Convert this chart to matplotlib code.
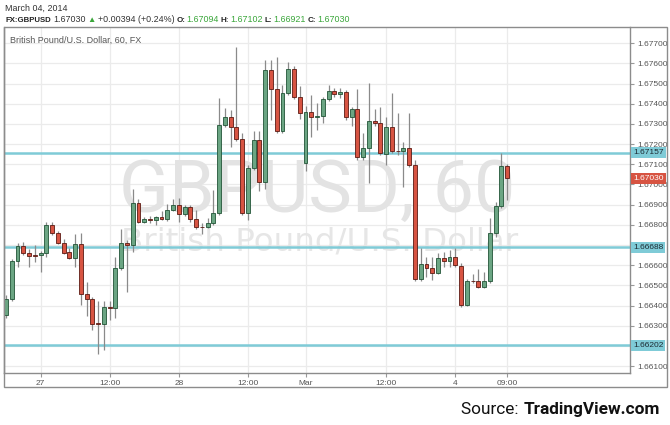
import matplotlib
matplotlib.use("Agg")
import matplotlib.pyplot as plt
from matplotlib import font_manager
from matplotlib.patches import Rectangle
import numpy as np
import pandas as pd

# ---------------- data ----------------
opens = [
    1.66353, 1.66431, 1.66621, 1.66697, 1.66659, 1.66650, 1.66649, 1.66659, 1.66798, 1.66761,
    1.66711, 1.66665, 1.66636, 1.66703, 1.66457, 1.66431, 1.66311, 1.66308, 1.66394, 1.66389,
    1.66587, 1.66711, 1.66700, 1.66910, 1.66815, 1.66829, 1.66825, 1.66837, 1.66827, 1.66874,
    1.66898, 1.66854, 1.66890, 1.66829, 1.66791, 1.66788, 1.66808, 1.66857, 1.67295, 1.67333,
    1.67284, 1.67226, 1.66860, 1.67080, 1.67221, 1.67011, 1.67568, 1.67473, 1.67265, 1.67454,
    1.67573, 1.67434, 1.67108, 1.67361, 1.67333, 1.67338, 1.67424, 1.67464, 1.67449, 1.67457,
    1.67336, 1.67373, 1.67135, 1.67179, 1.67316, 1.67303, 1.67150, 1.67284, 1.67168, 1.67166,
    1.67179, 1.67097, 1.66530, 1.66604, 1.66584, 1.66563, 1.66634, 1.66621, 1.66639, 1.66596,
    1.66403, 1.66522, 1.66522, 1.66490, 1.66522, 1.66758, 1.66893, 1.67094]
highs = [
    1.66452, 1.66631, 1.66708, 1.66713, 1.66680, 1.66700, 1.66670, 1.66815, 1.66815, 1.66769,
    1.66728, 1.66684, 1.66755, 1.66758, 1.66518, 1.66442, 1.66424, 1.66424, 1.66424, 1.66642,
    1.66778, 1.66725, 1.66976, 1.66928, 1.66840, 1.66844, 1.66842, 1.66870, 1.66903, 1.66928,
    1.66932, 1.66898, 1.66898, 1.66874, 1.66808, 1.66834, 1.66973, 1.67429, 1.67378, 1.67369,
    1.67683, 1.67255, 1.67097, 1.67265, 1.67265, 1.67617, 1.67617, 1.67631, 1.67493, 1.67609,
    1.67588, 1.67488, 1.67389, 1.67444, 1.67405, 1.67434, 1.67493, 1.67478, 1.67478, 1.67469,
    1.67384, 1.67472, 1.67254, 1.67502, 1.67373, 1.67383, 1.67336, 1.67455, 1.67354, 1.67212,
    1.67356, 1.67121, 1.66685, 1.66642, 1.66639, 1.66662, 1.66667, 1.66675, 1.66684, 1.66611,
    1.66531, 1.66555, 1.66580, 1.66568, 1.66833, 1.66915, 1.67155, 1.67102]
lows = [
    1.66338, 1.66422, 1.66589, 1.66650, 1.66589, 1.66617, 1.66568, 1.66639, 1.66750, 1.66705,
    1.66655, 1.66629, 1.66589, 1.66403, 1.66348, 1.66279, 1.66160, 1.66179, 1.66328, 1.66337,
    1.66576, 1.66468, 1.66667, 1.66808, 1.66808, 1.66810, 1.66799, 1.66822, 1.66819, 1.66869,
    1.66815, 1.66844, 1.66814, 1.66779, 1.66755, 1.66782, 1.66799, 1.66849, 1.67285, 1.67187,
    1.67216, 1.66849, 1.66824, 1.67072, 1.66969, 1.66976, 1.67320, 1.67255, 1.67255, 1.67444,
    1.67424, 1.67323, 1.67067, 1.67237, 1.67270, 1.67303, 1.67414, 1.67434, 1.67429, 1.67320,
    1.67290, 1.67121, 1.67121, 1.67006, 1.67290, 1.67146, 1.67097, 1.67156, 1.67146, 1.66989,
    1.67087, 1.66522, 1.66522, 1.66543, 1.66526, 1.66556, 1.66589, 1.66592, 1.66591, 1.66394,
    1.66397, 1.66512, 1.66487, 1.66487, 1.66512, 1.66740, 1.66885, 1.66921]
closes = [
    1.66431, 1.66621, 1.66697, 1.66659, 1.66647, 1.66647, 1.66659, 1.66798, 1.66761, 1.66711,
    1.66662, 1.66636, 1.66703, 1.66457, 1.66431, 1.66308, 1.66308, 1.66391, 1.66389, 1.66587,
    1.66708, 1.66700, 1.66910, 1.66815, 1.66829, 1.66824, 1.66837, 1.66827, 1.66874, 1.66898,
    1.66854, 1.66890, 1.66829, 1.66788, 1.66789, 1.66808, 1.66857, 1.67295, 1.67333, 1.67284,
    1.67226, 1.66860, 1.67080, 1.67221, 1.67011, 1.67568, 1.67473, 1.67265, 1.67454, 1.67573,
    1.67434, 1.67354, 1.67361, 1.67333, 1.67338, 1.67424, 1.67464, 1.67449, 1.67457, 1.67336,
    1.67373, 1.67135, 1.67179, 1.67316, 1.67303, 1.67158, 1.67284, 1.67166, 1.67166, 1.67179,
    1.67097, 1.66530, 1.66604, 1.66584, 1.66563, 1.66634, 1.66621, 1.66639, 1.66601, 1.66403,
    1.66522, 1.66521, 1.66490, 1.66522, 1.66758, 1.66893, 1.67094, 1.67030]

# hourly bars (weekend gap removed)
times = pd.date_range("2014-02-26 18:00", "2014-02-28 21:00", freq="h").append(
    pd.date_range("2014-03-02 22:00", "2014-03-04 09:00", freq="h"))

tick_times = ["2014-02-27 00:00", "2014-02-27 12:00", "2014-02-28 00:00", "2014-02-28 12:00",
              "2014-03-02 22:00", "2014-03-03 12:00", "2014-03-04 00:00", "2014-03-04 09:00"]
tick_labels = ["27", "12:00", "28", "12:00", "Mar", "12:00", "4", "09:00"]

price_ticks = [1.661, 1.662, 1.663, 1.664, 1.665, 1.666, 1.667, 1.668,
               1.669, 1.670, 1.671, 1.672, 1.673, 1.674, 1.675, 1.676, 1.677]
levels = [1.67157, 1.66688, 1.66202]
last_price = 1.67030

header_date = "March 04, 2014"
symbol = "FX:GBPUSD"
change_text = "+0.00394 (+0.24%)"
ohlc_labels = ["O:", "H:", "L:", "C:"]
ohlc_values = ["1.67094", "1.67102", "1.66921", "1.67030"]
subtitle = "British Pound/U.S. Dollar, 60, FX"
wm_big = "GBPUSD, 60"
wm_small = "British Pound/U.S. Dollar"

# ---------------- style ----------------
W, H = 670, 425
UP_FILL, UP_EDGE = "#6ba583", "#225437"
DN_FILL, DN_EDGE = "#d75442", "#5b1a13"
WICK = "#8a8a8a"
LEVEL = "#7fcbd7"
GRID = "#ebebeb"
BORDER = "#8c8c8c"
TXT = "#555555"
GREEN = "#3aa63a"
BASE = ["Liberation Sans", "DejaVu Sans"]
NARROW = ["Roboto", "Liberation Sans", "DejaVu Sans"]

fig = plt.figure(figsize=(W / 100, H / 100), dpi=100)
fig.patch.set_facecolor("white")


def fx(x):
    return x / W


def fy(y):
    return 1 - y / H


# chart frame
fig.patches.append(Rectangle((fx(4), fy(387)), fx(667) - fx(4), fy(27) - fy(387),
                             transform=fig.transFigure, fill=False, ec=BORDER, lw=1.0, zorder=0))

ax = fig.add_axes([fx(4), fy(373), fx(630) - fx(4), fy(27) - fy(373)])
ax.set_facecolor("white")
ax.set_xlim(-0.35, 108.33)
ax.set_ylim(1.660654, 1.677808)

x = np.arange(len(times))
o = np.array(opens); h = np.array(highs); l = np.array(lows); c = np.array(closes)
up = c >= o

# ticks / grid (labels hidden behind the level markers are left blank)
hidden = [round(abs(lv - p), 6) < 0.0002 for p in price_ticks for lv in levels]
ax.set_yticks(price_ticks)
ylabels = []
for p in price_ticks:
    covered = any(abs(p - lv) < 0.00016 for lv in levels)
    ylabels.append("" if covered else f"{p:.5f}")
ax.set_yticklabels(ylabels)
tick_pos = [times.get_loc(pd.Timestamp(t)) for t in tick_times]
ax.set_xticks(tick_pos)
ax.set_xticklabels(tick_labels)
ax.grid(True, color=GRID, lw=0.9, zorder=0)
ax.set_axisbelow(True)
ax.yaxis.tick_right()
ax.tick_params(axis="y", which="both", length=3, width=0.8, color="#999999", pad=2,
               labelsize=6, labelcolor=TXT)
ax.tick_params(axis="x", length=3, width=0.8, color="#999999", pad=2.0,
               labelsize=6, labelcolor=TXT)
for lab in ax.get_xticklabels() + ax.get_yticklabels():
    lab.set_family(BASE)
for side in ["left", "right", "bottom"]:
    ax.spines[side].set_color(BORDER)
    ax.spines[side].set_linewidth(1.0)
ax.spines["top"].set_visible(False)

renderer = fig.canvas.get_renderer()


def fit_text(s, x0, base_y, target_w, family, color, weight="normal"):
    t = fig.text(fx(x0), fy(base_y), s, fontsize=20, family=family, color=color,
                 ha="left", va="baseline", fontweight=weight)
    w = t.get_window_extent(renderer).width
    t.set_fontsize(20 * target_w / w)
    return t


# watermark (inside the axes drawing order, under the candles)
wm1 = fit_text(wm_big, 119, 212, 396, NARROW, "#e3e3e3")
wm2 = fit_text(wm_small, 121, 250, 397, ["DejaVu Sans"], "#e6e6e6")
for t in (wm1, wm2):
    t.remove()
    ax.add_artist(t)
    t.set_transform(fig.transFigure)
    t.set_zorder(0.8)
    t.set_clip_on(False)

# level lines
for lv in levels:
    ax.axhline(lv, color=LEVEL, lw=1.8, zorder=1.2)

# candles
ax.vlines(x, l, h, color=WICK, lw=0.9, zorder=2)
ax.bar(x[up], (c - o)[up], bottom=o[up], width=0.68, color=UP_FILL, edgecolor=UP_EDGE,
       linewidth=0.6, zorder=3)
ax.bar(x[~up], (o - c)[~up], bottom=c[~up], width=0.68, color=DN_FILL, edgecolor=DN_EDGE,
       linewidth=0.6, zorder=3)

# price labels on the right scale
for lv in levels:
    ax.annotate(f"{lv:.5f}", xy=(1, lv), xycoords=("axes fraction", "data"),
                xytext=(3, 0), textcoords="offset pixels", ha="left", va="center",
                fontsize=6, family=BASE, color="#1d2b33", annotation_clip=False, zorder=6,
                bbox=dict(boxstyle="square,pad=0.25", fc=LEVEL, ec="none"))
ax.annotate(f"{last_price:.5f}", xy=(1, last_price), xycoords=("axes fraction", "data"),
            xytext=(3, 0), textcoords="offset pixels", ha="left", va="center",
            fontsize=6, family=BASE, color="white", annotation_clip=False, zorder=6,
            bbox=dict(boxstyle="square,pad=0.25", fc=DN_FILL, ec="none"))

# subtitle inside chart
fig.text(fx(10), fy(43), subtitle, fontsize=6.5, family=BASE, color=TXT, va="baseline")

# header
fig.text(fx(5), fy(11), header_date, fontsize=6.4, family=BASE, color="#333333", va="baseline")
pieces = [(symbol, "#222222", "bold", 2.5, 5.6), ("1.67030", "#333333", "normal", 2, 6.4),
          ("\u25b2", GREEN, "normal", 2, 6.0), (change_text, "#333333", "normal", 2, 6.4)]
for lab, val in zip(ohlc_labels, ohlc_values):
    pieces.append((lab, "#222222", "bold", 1, 5.8))
    pieces.append((val, GREEN, "normal", 2, 6.4))
xc = 5
for s, col, wt, gap, fs in pieces:
    t = fig.text(fx(xc), fy(22), s, fontsize=fs, family=BASE, color=col, fontweight=wt,
                 va="baseline", ha="left")
    xc = t.get_window_extent(renderer).x1 + gap

# source
ts = fig.text(fx(461), fy(414), "Source: ", fontsize=13, family=NARROW,
              color="#111111", va="baseline", ha="left")
xs = ts.get_window_extent(renderer).x1 + 1
tb = fig.text(xs / W, fy(414), "TradingView.com", fontsize=13, family=NARROW,
              fontweight="bold", color="#111111", va="baseline", ha="left")
total = tb.get_window_extent(renderer).x1 - 461
scale = 199 / total
ts.set_fontsize(13 * scale)
tb.set_fontsize(13 * scale)
xs = ts.get_window_extent(renderer).x1 + 1
tb.set_x(xs / W)

fig.savefig("out.png", dpi=100, facecolor="white")
